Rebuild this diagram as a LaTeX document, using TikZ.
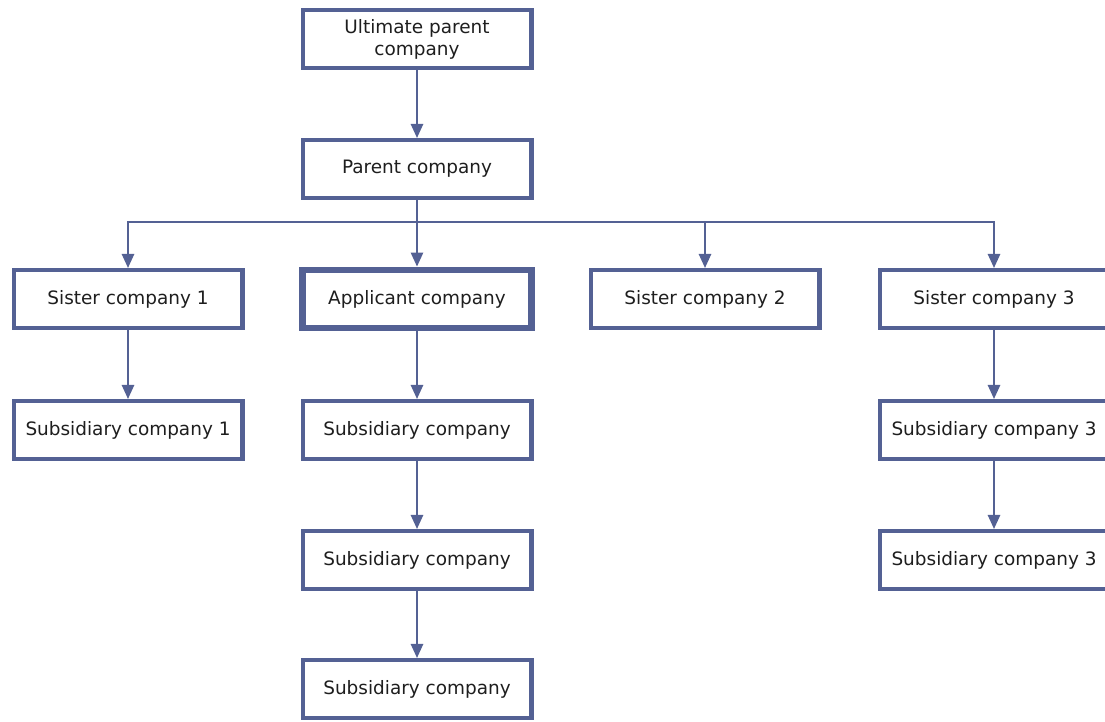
\documentclass[tikz,border=0pt]{standalone}
\usepackage{fontspec}
\setmainfont{DejaVu Sans}
\usepackage{xcolor}
\usetikzlibrary{arrows.meta}
\definecolor{linkblue}{RGB}{84,97,148}
\definecolor{labelgrey}{RGB}{30,30,30}

\begin{document}
\begin{tikzpicture}[x=0.02cm,y=-0.02cm,
	company/.style={draw=linkblue, line width=2.3pt, fill=white, align=center,
		minimum width=4.58cm, minimum height=1.16cm, inner sep=2pt,
		text=labelgrey, font=\fontsize{10.5}{12.5}\selectfont},
	applicant/.style={company, line width=3.9pt},
	link/.style={draw=linkblue, line width=1.1pt, -{Triangle[length=8pt,width=7pt]}}]
\clip (0,0) rectangle (1105,722);
\useasboundingbox (0,0) rectangle (1105,722);

% top of the group
\node[company] (ultimate) at (417,39) {Ultimate parent\\company};
\node[company] (parent) at (417,169) {Parent company};

% second row
\node[company] (sister1) at (128,299) {Sister company 1};
\node[applicant] (applicant) at (417,299) {Applicant company};
\node[company] (sister2) at (705,299) {Sister company 2};
\node[company] (sister3) at (994,299) {Sister company 3};

% subsidiaries
\node[company] (sub1) at (128,430) {Subsidiary company 1};
\node[company] (subA) at (417,430) {Subsidiary company};
\node[company] (subB) at (417,560) {Subsidiary company};
\node[company] (subC) at (417,689) {Subsidiary company};
\node[company] (sub3a) at (994,430) {Subsidiary company 3};
\node[company] (sub3b) at (994,560) {Subsidiary company 3};

\coordinate (bus) at (417,222);

\draw[link] (ultimate) -- (parent);
\draw[draw=linkblue, line width=1.1pt] (parent) -- (bus);
\draw[link] (bus) -| (sister1);
\draw[link] (bus) -- (applicant);
\draw[link] (bus) -| (sister2);
\draw[link] (bus) -| (sister3);
\draw[link] (sister1) -- (sub1);
\draw[link] (applicant) -- (subA);
\draw[link] (subA) -- (subB);
\draw[link] (subB) -- (subC);
\draw[link] (sister3) -- (sub3a);
\draw[link] (sub3a) -- (sub3b);
\end{tikzpicture}
\end{document}
